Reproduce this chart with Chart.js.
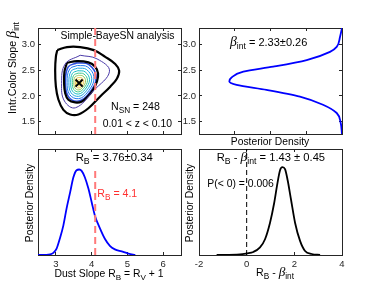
<!DOCTYPE html>
<html>
<head>
<meta charset="utf-8">
<script src="https://cdn.jsdelivr.net/npm/chart.js@4.4.1/dist/chart.umd.min.js"></script>
<style>
  html, body { margin: 0; padding: 0; background: #fff; }
  #wrap { position: relative; width: 379px; height: 285px; overflow: hidden; }
  canvas { position: absolute; left: 0; top: 0; }
</style>
</head>
<body>
<div id="wrap">
  <canvas id="contour" width="379" height="285"></canvas>
  <canvas id="betaPost" width="379" height="285"></canvas>
  <canvas id="rbPost" width="379" height="285"></canvas>
  <canvas id="diffPost" width="379" height="285"></canvas>
</div>
<script>
// ---- axes / ticks ----
const rbRange = [2.5, 6.5]
const betaRange = [1.26, 3.32]
const densRange = [0, 2]
const diffRange = [-2, 4]
const rbTicks = [3, 4, 5, 6]
const betaTicks = [1.5, 2, 2.5, 3]
const densTicks = [0, 0.5, 1, 1.5, 2]
const diffTicks = [-2, 0, 2, 4]

const rbFixed = 4.1
const bestFit = [3.65, 2.25]

// ---- marginal posteriors ----
const betaGrid = [1.25, 1.475, 1.668, 1.828, 1.988, 2.118, 2.214, 2.278, 2.363, 2.471, 2.568, 2.697, 2.857, 2.954, 3.147, 3.32]
const betaDens = [0, 0.018, 0.074, 0.266, 0.588, 1.056, 1.474, 1.576, 1.542, 1.38, 0.962, 0.494, 0.168, 0.074, 0.028, 0]

const rbGrid = [2.5, 2.84, 2.93, 3.02, 3.11, 3.21, 3.30, 3.40, 3.49, 3.58, 3.65, 3.72, 3.81, 3.91, 4.00, 4.09, 4.23, 4.37, 4.51, 4.65, 4.84, 5.03, 5.22]
const rbDens = [0, 0.01, 0.03, 0.09, 0.23, 0.42, 0.66, 0.89, 1.10, 1.20, 1.21, 1.19, 1.10, 0.94, 0.75, 0.56, 0.38, 0.23, 0.13, 0.08, 0.05, 0.02, 0]

const diffGrid = [-1.26, -0.28, 0.0, 0.28, 0.56, 0.77, 0.98, 1.15, 1.29, 1.40, 1.50, 1.61, 1.72, 1.86, 2.03, 2.24, 2.45, 2.73, 3.08]
const diffDens = [0, 0.006, 0.016, 0.03, 0.075, 0.156, 0.32, 0.51, 0.71, 0.84, 0.87, 0.85, 0.74, 0.55, 0.32, 0.14, 0.04, 0.01, 0]

// ---- joint posterior contours, [R_B, beta_int] ----
const cOuter = [[3.04,2.89],[3.31,2.95],[3.68,2.95],[4.06,2.89],[4.38,2.76],[4.66,2.62],[4.77,2.49],[4.71,2.34],[4.52,2.18],[4.24,1.99],[3.91,1.76],[3.63,1.64],[3.40,1.64],[3.21,1.73],[3.07,1.93],[3.00,2.18],[2.98,2.50],[3.00,2.76]]
const cPurple = [[3.68,2.79],[4.15,2.72],[4.50,2.48],[4.05,2.10],[3.55,1.77],[3.24,1.90],[3.16,2.24],[3.26,2.62]]
const cInner = [[3.31,2.645],[3.59,2.678],[3.91,2.652],[4.10,2.568],[4.18,2.44],[4.15,2.28],[4.04,2.118],[3.89,1.989],[3.73,1.892],[3.54,1.873],[3.35,1.925],[3.26,2.053],[3.23,2.247],[3.24,2.472]]
const cDarkBlue = [[3.595,2.644],[3.926,2.609],[4.128,2.360],[3.926,2.048],[3.632,1.900],[3.346,1.992],[3.264,2.268],[3.346,2.563]]
const cBlue = [[3.602,2.592],[3.890,2.562],[4.066,2.346],[3.890,2.074],[3.634,1.946],[3.386,2.026],[3.314,2.266],[3.386,2.522]]
const cLightBlue = [[3.609,2.541],[3.854,2.515],[4.004,2.332],[3.854,2.100],[3.636,1.992],[3.426,2.060],[3.364,2.264],[3.426,2.481]]
const cCyan = [[3.616,2.490],[3.818,2.468],[3.941,2.317],[3.818,2.127],[3.639,2.037],[3.465,2.093],[3.415,2.261],[3.465,2.440]]
const cTeal = [[3.623,2.443],[3.785,2.426],[3.884,2.304],[3.785,2.151],[3.641,2.079],[3.501,2.124],[3.461,2.259],[3.501,2.403]]
const cGreen = [[3.629,2.400],[3.755,2.387],[3.832,2.292],[3.755,2.173],[3.643,2.117],[3.535,2.152],[3.503,2.257],[3.535,2.369]]
const cOrange = [[3.635,2.357],[3.725,2.348],[3.780,2.280],[3.725,2.195],[3.645,2.155],[3.568,2.180],[3.545,2.255],[3.568,2.335]]
const cYellow = [[3.641,2.314],[3.695,2.309],[3.728,2.268],[3.695,2.217],[3.647,2.193],[3.601,2.208],[3.587,2.253],[3.601,2.301]]
const cCore = [[3.646,2.280],[3.671,2.277],[3.686,2.258],[3.671,2.235],[3.649,2.223],[3.627,2.230],[3.621,2.251],[3.627,2.274]]

const FONT = '"Liberation Sans", Arial, Helvetica, sans-serif'
const INK = '#262626'
const LABEL_W = 22   // room for y tick labels
const LABEL_H = 18   // room for x tick labels

function drawRich(ctx, parts, x, y, o = {}) {
  const size = o.size || 10.3
  const fonts = {
    n: size + 'px ' + FONT,
    s: (size * 0.78) + 'px ' + FONT,
    g: 'italic ' + (size * (o.gs || 1.15)) + 'px "Liberation Serif", serif'
  }
  ctx.save()
  ctx.translate(x, y)
  if (o.rot) ctx.rotate(o.rot)
  let w = 0
  for (const [t, k] of parts) { ctx.font = fonts[k]; w += ctx.measureText(t).width }
  let cx = o.align === 'center' ? -w / 2 : 0
  ctx.fillStyle = o.color || '#000'
  ctx.textBaseline = 'alphabetic'
  ctx.textAlign = 'left'
  for (const [t, k] of parts) {
    ctx.font = fonts[k]
    ctx.fillText(t, cx, k === 's' ? size * 0.3 : 0)
    cx += ctx.measureText(t).width
  }
  ctx.restore()
}

function axis(position, range, ticks, o = {}) {
  const horiz = position === 'top' || position === 'bottom'
  const room = o.labels ? (horiz ? LABEL_H : LABEL_W) : 0
  return {
    type: 'linear', position, min: range[0], max: range[1], reverse: !!o.reverse,
    afterBuildTicks: s => { s.ticks = ticks.map(v => ({ value: v })) },
    afterFit: s => {
      if (horiz) s.height = room
      else s.width = room
      s.paddingLeft = s.paddingRight = s.paddingTop = s.paddingBottom = 0
    },
    grid: { drawOnChartArea: false, drawTicks: o.marks !== false, tickLength: -3, color: INK, lineWidth: 1 },
    border: { display: true, color: INK, width: 1 },
    ticks: { display: !!o.labels, color: INK, font: { family: FONT, size: 9.5 }, padding: horiz ? 6.5 : 6 }
  }
}

const pts = (xs, ys) => xs.map((x, i) => ({ x, y: ys[i] }))
const loop = arr => arr.concat([arr[0]]).map(p => ({ x: p[0], y: p[1] }))

// area = chart-area box on the page; labelled = which sides carry tick labels
function panel(id, area, labelled, datasets, scales, texts, extra = {}) {
  return new Chart(document.getElementById(id), {
    type: 'line',
    data: { datasets },
    options: Object.assign({
      responsive: false, animation: false, events: [],
      layout: { padding: {
        left: area[0] - (labelled.left ? LABEL_W : 0),
        top: area[1],
        right: 379 - area[2],
        bottom: 285 - area[3] - (labelled.bottom ? LABEL_H : 0)
      } },
      scales,
      plugins: { legend: { display: false }, tooltip: { enabled: false } },
      elements: { point: { radius: 0 } }
    }, extra),
    plugins: [{ id: 'txt', afterDraw: c => texts.forEach(t => drawRich(c.ctx, t[0], t[1], t[2], t[3])) }]
  })
}

// ---- top left: joint contours ----
const contourStyle = [
  [cOuter, '#000000', 2.2],
  [cPurple, '#4b3aa8', 1],
  [cInner, '#000000', 2.2],
  [cDarkBlue, '#2f4fe0', 1.6],
  [cBlue, '#1f78f0', 1],
  [cLightBlue, '#1fa6e0', 1],
  [cCyan, '#17bfc2', 1],
  [cTeal, '#40c98c', 1],
  [cGreen, '#98c95a', 1],
  [cOrange, '#eabb3c', 1],
  [cYellow, '#f5d92a', 1],
  [cCore, '#f9f716', 1]
]

panel('contour', [38, 28, 181, 134], { left: true }, [
  { data: [{ x: bestFit[0], y: bestFit[1] }], showLine: false, pointStyle: 'crossRot', pointRadius: 5, pointBorderWidth: 2, pointBorderColor: '#000' },
  { data: [{ x: rbFixed, y: betaRange[0] }, { x: rbFixed, y: betaRange[1] }], borderColor: '#ff7a7a', borderWidth: 2, borderDash: [7, 4] },
  ...contourStyle.map(([c, col, w]) => ({ data: loop(c), borderColor: col, borderWidth: w, tension: 0.4 }))
], {
  x: axis('bottom', rbRange, rbTicks),
  x2: axis('top', rbRange, rbTicks),
  y: axis('left', betaRange, betaTicks, { labels: true }),
  y2: axis('right', betaRange, betaTicks)
}, [
  [[['Simple-BayeSN analysis', 'n']], 117.5, 39.3, { align: 'center', size: 10.4 }],
  [[['N', 'n'], ['SN', 's'], [' = 248', 'n']], 111, 110, { size: 10.6 }],
  [[['0.01 < z < 0.10', 'n']], 102.7, 127.3, { size: 10.4 }],
  [[['Intr.Color Slope ', 'n'], ['β', 'g'], ['int', 's']], 15.5, 68, { align: 'center', rot: -Math.PI / 2, size: 10.6, gs: 1.35 }]
])

// ---- top right: beta_int marginal ----
panel('betaPost', [199, 28, 342, 134], { left: true }, [
  { data: pts(betaDens, betaGrid), borderColor: '#0000ff', borderWidth: 1.8, cubicInterpolationMode: 'monotone' }
], {
  x: axis('bottom', densRange, densTicks, { reverse: true }),
  x2: axis('top', densRange, densTicks, { reverse: true }),
  y: axis('left', betaRange, betaTicks, { labels: true }),
  y2: axis('right', betaRange, betaTicks)
}, [
  [[['β', 'g'], ['int', 's'], [' = 2.33±0.26', 'n']], 230, 45.5, { size: 11, gs: 1.25 }],
  [[['Posterior Density', 'n']], 270, 145, { align: 'center' }]
], { indexAxis: 'y' })

// ---- bottom left: R_B marginal ----
const rbYMax = 1.5
panel('rbPost', [38, 149, 181, 255], { bottom: true }, [
  { data: [{ x: rbFixed, y: 0 }, { x: rbFixed, y: Math.max(...rbDens) }], borderColor: '#ff7a7a', borderWidth: 2, borderDash: [7, 4] },
  { data: pts(rbGrid, rbDens), borderColor: '#0000ff', borderWidth: 1.8, cubicInterpolationMode: 'monotone' }
], {
  x: axis('bottom', rbRange, rbTicks, { labels: true }),
  x2: axis('top', rbRange, rbTicks),
  y: axis('left', [0, rbYMax], [0], { marks: false }),
  y2: axis('right', [0, rbYMax], [0], { marks: false })
}, [
  [[['R', 'n'], ['B', 's'], [' = 3.76±0.34', 'n']], 75.7, 160.7, { size: 11.3 }],
  [[['R', 'n'], ['B', 's'], [' = 4.1', 'n']], 97.3, 197.3, { color: '#ff3030', size: 10.6 }],
  [[['Posterior Density', 'n']], 33, 203, { align: 'center', rot: -Math.PI / 2 }],
  [[['Dust Slope R', 'n'], ['B', 's'], [' = R', 'n'], ['V', 's'], [' + 1', 'n']], 109, 276.7, { align: 'center', size: 10.4 }]
])

// ---- bottom right: R_B - beta_int ----
const diffYMax = 1.05
panel('diffPost', [199, 149, 342, 255], { bottom: true }, [
  { data: [{ x: 0, y: 0 }, { x: 0, y: diffYMax }], borderColor: '#000', borderWidth: 1, borderDash: [5, 3] },
  { data: pts(diffGrid, diffDens), borderColor: '#000', borderWidth: 1.8, cubicInterpolationMode: 'monotone' }
], {
  x: axis('bottom', diffRange, diffTicks, { labels: true }),
  x2: axis('top', diffRange, diffTicks),
  y: axis('left', [0, diffYMax], [0], { marks: false }),
  y2: axis('right', [0, diffYMax], [0], { marks: false })
}, [
  [[['R', 'n'], ['B', 's'], [' - ', 'n'], ['β', 'g'], ['int', 's'], [' = 1.43 ± 0.45', 'n']], 216.7, 160.7, { size: 11.2, gs: 1.2 }],
  [[['P(< 0) = 0.006', 'n']], 207.3, 186.7, { size: 10.4 }],
  [[['Posterior Density', 'n']], 193, 203, { align: 'center', rot: -Math.PI / 2 }],
  [[['R', 'n'], ['B', 's'], [' - ', 'n'], ['β', 'g'], ['int', 's']], 275, 276, { align: 'center', size: 10.6, gs: 1.25 }]
])
</script>
</body>
</html>
